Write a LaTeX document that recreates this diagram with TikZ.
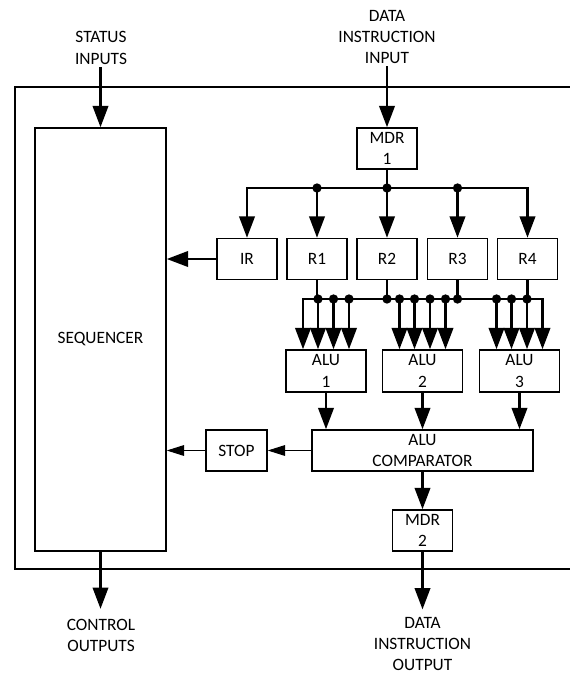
\documentclass[tikz,border=0pt]{standalone}
\usepackage{fontspec}
\setmainfont{Carlito}
\usetikzlibrary{arrows.meta}

\begin{document}
\begin{tikzpicture}[x=0.75pt,y=-0.75pt,
  font=\fontsize{13}{16}\selectfont,
  blk/.style={draw,line width=1.1pt,inner sep=0pt,align=center,minimum height=30.75pt},
  reg/.style={blk,minimum width=45pt},
  alu/.style={blk,minimum width=60pt,minimum height=31.5pt},
  wire/.style={line width=2pt,line cap=rect},
  bigarrow/.style={wire,-{Triangle[length=16pt,width=11.5pt]}},
  thinarrow/.style={line width=0.8pt,-{Triangle[length=13pt,width=8pt]}},
  extlabel/.style={align=center,inner sep=2.5pt}]
  \useasboundingbox (0,0) rectangle (569,675);
  % chip outline, runs off the right edge
  \draw[line width=1.5pt] (580,87) -- (15,87) -- (15,569) -- (580,569);

  \node[blk,minimum width=98.25pt,minimum height=317.25pt] (seq) at (100.5,339.5) {SEQUENCER};
  \node[reg] (mdr1) at (387,148.5) {MDR\\1};
  \node[reg] (ir) at (247,259) {IR};
  \node[reg] (r1) at (317,259) {R1};
  \node[reg] (r2) at (387,259) {R2};
  \node[reg] (r3) at (457.5,259) {R3};
  \node[reg] (r4) at (527.5,259) {R4};
  \node[alu] (alu1) at (326,371) {ALU\\1};
  \node[alu] (alu2) at (422.5,371) {ALU\\2};
  \node[alu] (alu3) at (519.5,371) {ALU\\3};
  \node[blk,minimum width=165.75pt] (cmp) at (422.5,450.5) {ALU\\COMPARATOR};
  \node[blk,minimum width=45.75pt] (stop) at (236.5,450.5) {STOP};
  \node[reg] (mdr2) at (422.5,530.5) {MDR\\2};

  % outside labels
  \node[extlabel] (stin) at (101,48) {STATUS\\INPUTS};
  \node[extlabel] (din) at (387,37) {DATA\\INSTRUCTION\\INPUT};
  \node[extlabel] (ctout) at (101,635.5) {CONTROL\\OUTPUTS};
  \node[extlabel] (dout) at (422.5,644) {DATA\\INSTRUCTION\\OUTPUT};

  \draw[bigarrow] (seq.north |- stin.south) -- (seq.north);
  \draw[bigarrow] (mdr1.north |- din.south) -- (mdr1.north);
  \draw[bigarrow,shorten >=5pt] (seq.south) -- (seq.south |- ctout.north);
  \draw[bigarrow,shorten >=3pt] (mdr2.south) -- (mdr2.south |- dout.north);

  % bus from MDR 1 to the registers
  \coordinate (busA) at (0,188);
  \draw[wire] (mdr1.south) -- (mdr1.south |- busA);
  \draw[wire] (ir.north |- busA) -- (r4.north |- busA);
  \foreach \r in {ir,r1,r2,r3,r4}
    \draw[bigarrow] (\r.north |- busA) -- (\r.north);
  \foreach \r in {r1,r2,r3}
    \fill (\r.north |- busA) circle (3.5pt);

  % bus from the registers to the ALUs
  \coordinate (busB) at (0,299);
  \foreach \r in {r1,r2,r3,r4}
    \draw[wire] (\r.south) -- (\r.south |- busB);
  \foreach \a in {alu1,alu2,alu3}
    \foreach \d [count=\k] in {-23,-8,7.5,23} {
      \path (\a.north) ++(\d,0) coordinate (\a-in\k);
      \draw[bigarrow] (\a-in\k |- busB) -- (\a-in\k);
    }
  \draw[wire] (alu1-in1 |- busB) -- (alu3-in4 |- busB);
  \foreach \p in {alu1-in2,alu1-in3,alu1-in4,alu2-in1,alu2-in2,alu2-in3,alu2-in4,alu3-in1,alu3-in2,alu3-in3}
    \fill (\p |- busB) circle (3.5pt);
  \fill (r2.south |- busB) circle (3.5pt);
  \fill (r3.south |- busB) circle (3.5pt);

  \foreach \a in {alu1,alu2,alu3}
    \draw[bigarrow] (\a.south) -- (\a.south |- cmp.north);
  \draw[bigarrow] (cmp.south) -- (mdr2.north);
  \draw[thinarrow] (cmp.west) -- (stop.east);
  \draw[thinarrow] (stop.west) -- (stop.west -| seq.east);
  \draw[bigarrow] (ir.west) -- (ir.west -| seq.east);
\end{tikzpicture}
\end{document}
